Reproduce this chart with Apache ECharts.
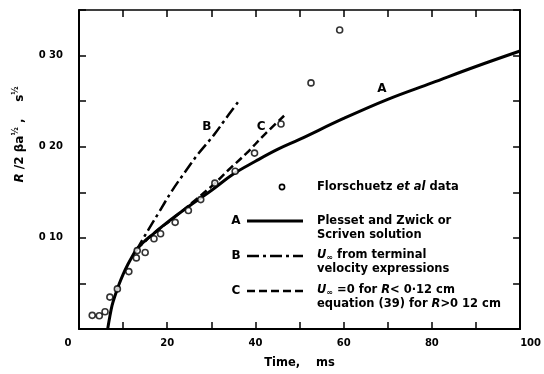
<!DOCTYPE html>
<html>
<head>
<meta charset="utf-8">
<script src="https://cdn.jsdelivr.net/npm/echarts@6/dist/echarts.min.js"></script>
<style>
  html, body { margin: 0; padding: 0; background: #fff; }
  #chart { width: 544px; height: 374px; }
</style>
</head>
<body>
<div id="chart"></div>
<script>
// Axis tick labels
const timeTickValues = [0, 20, 40, 60, 80, 100];
const timeTickText = ['0', '20', '40', '60', '80', '100'];
const radiusTickValues = [0.1, 0.2, 0.3];
const radiusTickText = ['0 10', '0 20', '0 30'];

// Florschuetz et al. measurements (time in ms, R/2βa^½ in s^½)
const dataTime = [3.0, 4.6, 5.9, 7.0, 8.7, 11.3, 13.0, 13.2, 15.0, 17.0, 18.5, 21.8, 24.8, 27.6, 30.8, 35.4, 39.8, 45.8, 52.6, 59.1];
const dataRadius = [0.015, 0.0145, 0.019, 0.035, 0.044, 0.063, 0.078, 0.086, 0.084, 0.099, 0.1045, 0.117, 0.130, 0.142, 0.160, 0.173, 0.193, 0.225, 0.270, 0.328];

// Curve A: Plesset and Zwick / Scriven solution
const curveATime = [6.5, 7.0, 7.5, 8.2, 9.0, 10.0, 11.1, 12.0, 13.0, 15.0, 17.0, 20.0, 25.0, 30.0, 35.0, 40.0, 45.0, 50.0, 60.0, 70.0, 80.0, 90.0, 100.0];
const curveARadius = [0.0, 0.014, 0.026, 0.037, 0.048, 0.060, 0.071, 0.079, 0.087, 0.097, 0.105, 0.117, 0.135, 0.152, 0.170, 0.184, 0.197, 0.208, 0.231, 0.252, 0.270, 0.288, 0.305];

// Curve B: U∞ from terminal velocity expressions
const curveBTime = [13.0, 15.0, 18.0, 21.0, 24.0, 27.0, 30.6, 33.0, 36.2];
const curveBRadius = [0.086, 0.103, 0.127, 0.151, 0.172, 0.192, 0.213, 0.229, 0.250];

// Curve C: U∞ = 0 for R < 0.12 cm, eq. (39) above
const curveCTime = [13.0, 17.0, 21.5, 26.0, 30.6, 34.0, 38.0, 42.0, 46.5];
const curveCRadius = [0.087, 0.105, 0.122, 0.140, 0.159, 0.175, 0.193, 0.213, 0.234];

const zip = (xs, ys) => xs.map((x, i) => [x, ys[i]]);
const FONT = 'DejaVu Sans';
const INK = '#000';

const chart = echarts.init(document.getElementById('chart'), null, { renderer: 'canvas' });

function curveLabel(text, t, r) {
  return {
    symbol: 'circle', symbolSize: 0, silent: true,
    label: { show: true, position: 'inside', formatter: text, color: INK,
             fontFamily: FONT, fontSize: 12, fontWeight: 'bold' },
    data: [{ coord: [t, r] }]
  };
}

const option = {
  backgroundColor: '#fff',
  animation: false,
  grid: { left: 79, right: 15, top: 10, bottom: 41, containLabel: false },
  xAxis: [{
    type: 'value', min: 0, max: 100, interval: 10,
    name: 'Time,    ms', nameLocation: 'middle', nameGap: 28,
    nameTextStyle: { fontFamily: FONT, fontSize: 11.5, fontWeight: 'bold', color: INK },
    axisLine: { show: true, onZero: false, lineStyle: { color: INK, width: 2 } },
    axisTick: { show: true, inside: true, length: 7, lineStyle: { color: INK, width: 1.5 } },
    axisLabel: {
      margin: 9, fontFamily: FONT, fontSize: 10, fontWeight: 'bold', color: INK,
      formatter: v => {
        const i = timeTickValues.indexOf(v);
        if (i < 0) return '';
        if (v === 0) return '{lo|' + timeTickText[i] + '}';
        if (v === 100) return '{hi|' + timeTickText[i] + '}';
        return timeTickText[i];
      },
      rich: {
        lo: { fontFamily: FONT, fontSize: 10, fontWeight: 'bold', color: INK, padding: [0, 22, 0, 0] },
        hi: { fontFamily: FONT, fontSize: 10, fontWeight: 'bold', color: INK, padding: [0, 0, 0, 21] }
      }
    },
    splitLine: { show: false }
  }, {
    type: 'value', position: 'top', min: 0, max: 100, interval: 10,
    axisLine: { show: true, onZero: false, lineStyle: { color: INK, width: 1.5 } },
    axisTick: { show: true, inside: true, length: 7, lineStyle: { color: INK, width: 1.5 } },
    axisLabel: { show: false },
    splitLine: { show: false }
  }],
  yAxis: [{
    type: 'value', min: 0, max: 0.35, interval: 0.05,
    name: '{i|R}{n| /2 βa}{sup|½}{n| ,    s}{sup|½}',
    nameLocation: 'middle', nameGap: 52,
    nameTextStyle: {
      fontFamily: FONT, fontSize: 12, color: INK, padding: [0, 0, 0, 70],
      rich: {
        i: { fontFamily: FONT, fontSize: 12, fontStyle: 'italic', fontWeight: 'bold', color: INK },
        n: { fontFamily: FONT, fontSize: 12, fontWeight: 'bold', color: INK },
        sup: { fontFamily: FONT, fontSize: 8, fontWeight: 'bold', color: INK, verticalAlign: 'top', padding: [0, 0, 7, 0] }
      }
    },
    axisLine: { show: true, onZero: false, lineStyle: { color: INK, width: 2 } },
    axisTick: { show: true, inside: true, length: 7, lineStyle: { color: INK, width: 1.5 } },
    axisLabel: {
      margin: 16, fontFamily: FONT, fontSize: 10, fontWeight: 'bold', color: INK,
      formatter: v => {
        const i = radiusTickValues.findIndex(r => Math.abs(r - v) < 1e-9);
        return i < 0 ? '' : radiusTickText[i];
      }
    },
    splitLine: { show: false }
  }, {
    type: 'value', position: 'right', min: 0, max: 0.35, interval: 0.05,
    axisLine: { show: true, onZero: false, lineStyle: { color: INK, width: 2 } },
    axisTick: { show: true, inside: true, length: 7, lineStyle: { color: INK, width: 1.5 } },
    axisLabel: { show: false },
    splitLine: { show: false }
  }],
  series: [
    {
      name: 'A', type: 'line', data: zip(curveATime, curveARadius),
      smooth: 0.4, showSymbol: false, symbol: 'none', clip: true,
      lineStyle: { color: INK, width: 3 },
      markPoint: curveLabel('A', 68.7, 0.263)
    },
    {
      name: 'B', type: 'line', data: zip(curveBTime, curveBRadius),
      smooth: 0.4, showSymbol: false, symbol: 'none',
      lineStyle: { color: INK, width: 2.5, type: [12, 4, 3, 4] },
      markPoint: curveLabel('B', 29.0, 0.222)
    },
    {
      name: 'C', type: 'line', data: zip(curveCTime, curveCRadius),
      smooth: 0.4, showSymbol: false, symbol: 'none',
      lineStyle: { color: INK, width: 2.5, type: [8, 4] },
      markPoint: curveLabel('C', 41.3, 0.222)
    },
    {
      name: 'Florschuetz et al data', type: 'scatter', data: zip(dataTime, dataRadius),
      symbol: 'circle', symbolSize: 6, z: 5,
      itemStyle: { color: '#fff', borderColor: INK, borderWidth: 1.6 }
    }
  ]
};

chart.setOption(option);

// Key drawn inside the plotting area
const keyText = (x, y, text) => ({
  type: 'text', x, y, silent: true,
  style: {
    text, fill: INK, font: 'bold 11.5px "DejaVu Sans"', verticalAlign: 'middle',
    rich: {
      i: { fontFamily: FONT, fontSize: 11.5, fontWeight: 'bold', fontStyle: 'italic', fill: INK },
      sub: { fontFamily: FONT, fontSize: 8, fontWeight: 'bold', fill: INK, verticalAlign: 'bottom', padding: [6, 0, 0, 0] }
    }
  }
});
const keyLetter = (x, y, text) => ({
  type: 'text', x, y, silent: true,
  style: { text, fill: INK, font: 'bold 12px "DejaVu Sans"', verticalAlign: 'middle', align: 'center' }
});
const keyLine = (y, dash) => ({
  type: 'line', silent: true,
  shape: { x1: 247, y1: y, x2: 303, y2: y },
  style: { stroke: INK, lineWidth: dash ? 2.5 : 3, lineDash: dash || null }
});

chart.setOption({
  graphic: [
    { type: 'circle', silent: true, shape: { cx: 282, cy: 187, r: 2.6 },
      style: { fill: '#fff', stroke: INK, lineWidth: 1.6 } },
    keyText(317, 187, 'Florschuetz {i|et al} data'),

    keyLetter(236, 221, 'A'),
    keyLine(221, null),
    keyText(317, 221, 'Plesset and Zwick or'),
    keyText(317, 235, 'Scriven solution'),

    keyLetter(236, 256, 'B'),
    keyLine(256, [12, 4, 3, 4]),
    keyText(317, 255, '{i|U}{sub|∞} from terminal'),
    keyText(317, 269, 'velocity expressions'),

    keyLetter(236, 291, 'C'),
    keyLine(291, [8, 4]),
    keyText(317, 290, '{i|U}{sub|∞} =0 for {i|R}< 0·12 cm'),
    keyText(317, 304, 'equation (39) for {i|R}>0 12 cm')
  ]
});
</script>
</body>
</html>
